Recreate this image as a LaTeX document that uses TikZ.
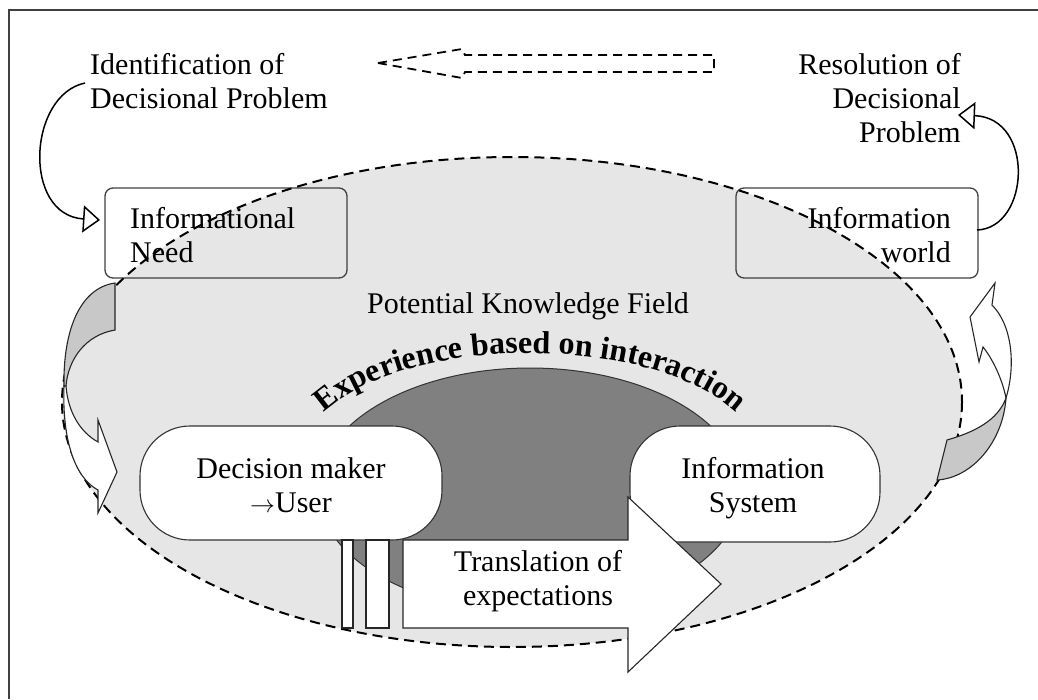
\documentclass[tikz,border=0pt]{standalone}
\usepackage{fontspec}
\setmainfont{Liberation Serif}
\usetikzlibrary{arrows.meta,decorations.text}
\definecolor{fieldgrey}{HTML}{E6E6E6}
\definecolor{darkgrey}{HTML}{808080}
\definecolor{midgrey}{HTML}{C8C8C8}
\definecolor{framecol}{HTML}{404040}
\begin{document}
\begin{tikzpicture}[x=1pt,y=-1pt,
  txt/.style={font=\fontsize{30}{34}\selectfont, inner sep=0pt},
  topbox/.style={draw=framecol, line width=1.3pt, rounded corners=8pt},
  pill/.style={draw=black!80, line width=1.1pt, fill=white, rounded corners=50pt, inner sep=0pt},
  fielddash/.style={line width=2pt, dash pattern=on 10pt off 6pt},
  thinline/.style={draw=black!85, line width=1.1pt},
  linkarrow/.style={line width=1.5pt, -{Triangle[open, length=17pt, width=27pt]}}
]
\useasboundingbox (0,0) rectangle (1038,699);
% frame
\draw[framecol, line width=2pt] (9,699) -- (9,10) -- (1038,10);

% field fill
\fill[fieldgrey] (512,402) ellipse [x radius=450, y radius=245];

% top boxes
\node[topbox, minimum width=242pt, minimum height=90pt] (need) at (226,233) {};
\node[topbox, minimum width=242pt, minimum height=90pt] (world) at (857,233) {};
\node[txt, anchor=base west, align=left] (needtxt) at (130,262) {Informational\\Need};
\node[txt, anchor=base east, align=right] (worldtxt) at (951,262) {Information\\world};

% top labels
\node[txt, anchor=base west, align=left] (ident) at (90,108) {Identification of\\Decisional Problem};
\node[txt, anchor=base east, align=right] (resol) at (961,142) {Resolution of\\Decisional\\Problem};

% dashed field outline
\draw[fielddash] (512,402) ellipse [x radius=450, y radius=245];

% curved link arrows
\coordinate (identend) at (85,83);
\coordinate (needin) at (100,220);
\draw[linkarrow] (identend) .. controls (28,95) and (22,215) .. (needin);
\coordinate (worldout) at (977,230);
\coordinate (resolin) at (958,115);
\draw[linkarrow] (worldout) .. controls (1030,228) and (1035,118) .. (resolin);

% top dashed arrow
\draw[line width=1.8pt, dash pattern=on 9pt off 6pt] (378,63) -- (462,49) -- (465,55) -- (714,55) -- (714,72) -- (465,72) -- (462,78) -- cycle;

% left curved block arrow
\filldraw[fill=midgrey, thinline] (115,283) .. controls (80,288) and (63,330) .. (64,386)
  -- (66,386) .. controls (68,360) and (85,335) .. (115,330) -- cycle;
\filldraw[fill=white, thinline] (64,386) .. controls (62,440) and (75,478) .. (98,490)
  -- (98,513) -- (117,472) -- (98,420) -- (98,442) .. controls (80,432) and (68,412) .. (66,386) -- cycle;

% right curved block arrow
\filldraw[fill=midgrey, thinline] (937,480) -- (947,440) .. controls (975,432) and (998,420) .. (1006,398)
  .. controls (1003,442) and (972,478) .. (937,480) -- cycle;
\filldraw[fill=white, thinline] (1006,398) .. controls (1002,378) and (992,358) .. (983,347)
  -- (979,362) -- (970,317) -- (995,283) -- (992,305) .. controls (1012,325) and (1016,365) .. (1006,398) -- cycle;

% field label
\node[txt, anchor=base] (field) at (528,313) {Potential Knowledge Field};

% experience dome
\filldraw[fill=darkgrey, draw=black!80, line width=1pt] (530,490) ellipse [x radius=212, y radius=122];
\path[decorate, decoration={text along path, text align=center,
   text={|\fontsize{32}{32}\selectfont\bfseries|Experience based on interaction}}]
   (316,420) .. controls (398,331) and (662,331) .. (744,420);

% decision maker and information system
\node[pill, minimum width=302pt, minimum height=114pt] (dm) at (291,483) {};
\node[txt, anchor=base, align=center] (dmtxt) at (291,512) {Decision maker\\$\rightarrow$User};
\node[pill, minimum width=250pt, minimum height=116pt] (is) at (755,484) {};
\node[txt, anchor=base, align=center] (istxt) at (753,512) {Information\\System};

% bars
\filldraw[fill=white, thinline] (342,540) rectangle (353,628);
\filldraw[fill=white, thinline] (366,540) rectangle (389,628);

% translation arrow
\filldraw[fill=white, thinline] (403,540) -- (628,540) -- (628,497) -- (721,584) -- (628,672) -- (628,628) -- (403,628) -- cycle;
\node[txt, anchor=base, align=center] (trans) at (538,605) {Translation of\\expectations};
\end{tikzpicture}
\end{document}
